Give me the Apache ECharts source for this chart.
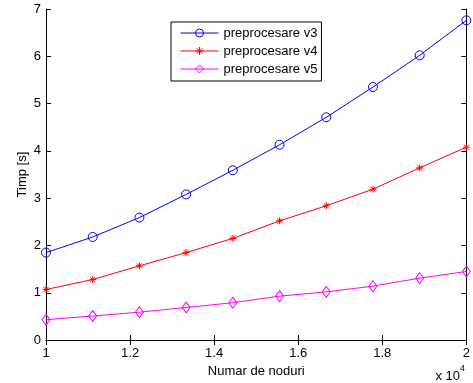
<!DOCTYPE html>
<html>
<head>
<meta charset="utf-8">
<script src="https://cdn.jsdelivr.net/npm/echarts@6/dist/echarts.min.js"></script>
<style>
html,body{margin:0;padding:0;background:#fff;}
#chart{width:473px;height:383px;}
</style>
</head>
<body>
<div id="chart"></div>
<script>
// Data
var nodes = [10000, 11111, 12222, 13333, 14444, 15556, 16667, 17778, 18889, 20000];
var seriesNames = ['preprocesare v3', 'preprocesare v4', 'preprocesare v5'];
var v3 = [1.85, 2.18, 2.59, 3.08, 3.59, 4.13, 4.71, 5.35, 6.02, 6.76];
var v4 = [1.07, 1.28, 1.57, 1.85, 2.15, 2.52, 2.84, 3.19, 3.64, 4.08];
var v5 = [0.43, 0.51, 0.59, 0.69, 0.79, 0.93, 1.02, 1.14, 1.31, 1.45];
var xTickLabels = ['1', '1.2', '1.4', '1.6', '1.8', '2'];
var yTickLabels = ['0', '1', '2', '3', '4', '5', '6', '7'];

var FONT = 'Liberation Sans, Arial, Helvetica, sans-serif';
function pairs(ys){ return nodes.map(function(x,i){ return [x, ys[i]]; }); }

var chart = echarts.init(document.getElementById('chart'), null, {renderer:'canvas'});
var axisCommon = {
  axisLine: {show: true, lineStyle: {color: '#000', width: 1}},
  axisTick: {show: true, inside: true, length: 5, lineStyle: {color: '#000', width: 1}},
  splitLine: {show: false}
};
var circleSym = 'path://M10,5A5,5,0,1,1,0,5A5,5,0,1,1,10,5Z';
var asteriskSym = 'path://M5,0L5,10M0,5L10,5M1.5,1.5L8.5,8.5M1.5,8.5L8.5,1.5';
var diamondSym = 'path://M5,0L10,6L5,12L0,6Z';

chart.setOption({
  animation: false,
  backgroundColor: '#fff',
  grid: {left: 46, top: 9, right: 4, bottom: 41, containLabel: false},
  xAxis: [
    Object.assign({
      type: 'value', min: 10000, max: 20000, interval: 2000, position: 'bottom',
      name: 'Numar de noduri', nameLocation: 'middle', nameGap: 21,
      nameTextStyle: {color: '#000', fontSize: 13, fontFamily: FONT},
      axisLabel: {color: '#000', fontSize: 13, fontFamily: FONT, margin: 7,
        formatter: function(v){ return xTickLabels[Math.round((v - 10000) / 2000)]; }}
    }, axisCommon),
    Object.assign({
      type: 'value', min: 10000, max: 20000, interval: 2000, position: 'top',
      axisLabel: {show: false}
    }, axisCommon)
  ],
  yAxis: [
    Object.assign({
      type: 'value', min: 0, max: 7, interval: 1, position: 'left',
      name: 'Timp [s]', nameLocation: 'middle', nameGap: 17, nameMoveOverlap: false,
      nameTextStyle: {color: '#000', fontSize: 13, fontFamily: FONT},
      axisLabel: {color: '#000', fontSize: 13, fontFamily: FONT, margin: 5,
        formatter: function(v){ return yTickLabels[Math.round(v)]; }}
    }, axisCommon),
    Object.assign({
      type: 'value', min: 0, max: 7, interval: 1, position: 'right',
      axisLabel: {show: false}
    }, axisCommon)
  ],
  legend: {
    left: 171, top: 22, orient: 'vertical',
    backgroundColor: '#fff', borderColor: '#000', borderWidth: 1,
    padding: [4, 4, 5, 9], itemGap: 4, itemWidth: 38, itemHeight: 10,
    lineStyle: {width: 1},
    itemStyle: {borderWidth: 1},
    textStyle: {color: '#000', fontSize: 13, fontFamily: FONT, lineHeight: 14},
    data: seriesNames
  },
  graphic: [{
    type: 'text', right: 8, top: 364,
    style: {
      text: '{a|x 10}{b|4}',
      rich: {
        a: {fontSize: 13, fontFamily: FONT, fill: '#000', verticalAlign: 'bottom', padding: [6,0,0,0]},
        b: {fontSize: 9, fontFamily: FONT, fill: '#000', verticalAlign: 'top'}
      }
    }
  }],
  series: [
    {name: seriesNames[0], type: 'line', data: pairs(v3), symbol: circleSym, symbolSize: 9,
      lineStyle: {color: '#0000ff', width: 1},
      itemStyle: {color: 'rgba(0,0,0,0)', borderColor: '#0000ff', borderWidth: 1}},
    {name: seriesNames[1], type: 'line', data: pairs(v4), symbol: asteriskSym, symbolSize: 7,
      lineStyle: {color: '#ff0000', width: 1},
      itemStyle: {color: 'rgba(0,0,0,0)', borderColor: '#ff0000', borderWidth: 1}},
    {name: seriesNames[2], type: 'line', data: pairs(v5), symbol: diamondSym, symbolSize: [8, 11],
      lineStyle: {color: '#ff00ff', width: 1},
      itemStyle: {color: 'rgba(0,0,0,0)', borderColor: '#ff00ff', borderWidth: 1}}
  ]
});
</script>
</body>
</html>
